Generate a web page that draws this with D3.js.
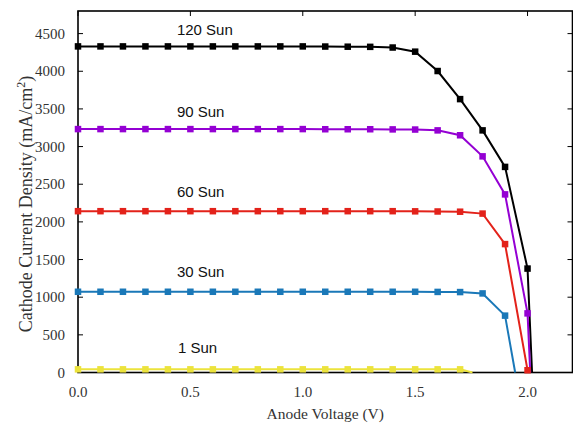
<!DOCTYPE html>
<html>
<head>
<meta charset="utf-8">
<script src="https://cdn.jsdelivr.net/npm/d3@7"></script>
<style>
  body { margin: 0; background: #fff; }
  svg { display: block; }
</style>
</head>
<body>
<script>
var width = 573,
    height = 423;

// voltage grid (V), 0.0 .. 2.0 step 0.1
var voltage = [0.0, 0.1, 0.2, 0.3, 0.4, 0.5, 0.6, 0.7, 0.8, 0.9, 1.0,
               1.1, 1.2, 1.3, 1.4, 1.5, 1.6, 1.7, 1.8, 1.9, 2.0];

// current density (mA/cm^2)
var sun120 = [4330, 4330, 4330, 4330, 4330, 4330, 4330, 4330, 4330, 4330, 4330,
              4328, 4326, 4324, 4315, 4260, 4003, 3630, 3215, 2730, 1380];
var sun90  = [3232, 3232, 3232, 3232, 3232, 3232, 3232, 3232, 3232, 3232, 3232,
              3230, 3230, 3230, 3228, 3226, 3215, 3150, 2870, 2365, 785];
var sun60  = [2142, 2142, 2142, 2142, 2142, 2142, 2142, 2142, 2142, 2142, 2142,
              2142, 2142, 2142, 2142, 2140, 2138, 2135, 2110, 1705, 30];
var sun30  = [1072, 1072, 1072, 1072, 1072, 1072, 1072, 1072, 1072, 1072, 1072,
              1072, 1072, 1072, 1072, 1072, 1070, 1068, 1050, 755];
var sun1   = [42, 42, 42, 42, 42, 42, 42, 42, 42, 42, 42,
              42, 42, 42, 42, 42, 42, 42];

// open circuit voltage where each curve meets zero
var voc = [2.02, 2.012, 2.004, 1.945, 1.755];

var names = ['120 Sun', '90 Sun', '60 Sun', '30 Sun', '1 Sun'];
var colors = ['#000000', '#9400d3', '#e3221a', '#1a78b8', '#ece33c'];

// label anchors in data coords (like gnuplot "set label at")
var labelX = [0.44, 0.44, 0.44, 0.44, 0.445];
var labelY = [4475, 3390, 2325, 1270, 262];

var xTicks = [0, 0.5, 1.0, 1.5, 2.0];
var yTicks = [0, 500, 1000, 1500, 2000, 2500, 3000, 3500, 4000, 4500];

var plotL = 78, plotR = 572.5, plotT = 11, plotB = 372.5;

var x = d3.scaleLinear().domain([0, 2.2]).range([plotL, plotR]);
var y = d3.scaleLinear().domain([0, 4800]).range([plotB, plotT]);

var svg = d3.select('body')
  .append('svg')
  .attr('width', width)
  .attr('height', height);

var series = [sun120, sun90, sun60, sun30, sun1].map(function(vals, i) {
  var pts = vals.map(function(v, j) { return [voltage[j], v]; });
  return { name: names[i], color: colors[i], pts: pts, line: pts.concat([[voc[i], 0]]) };
});

// frame
svg.append('rect')
  .attr('x', plotL).attr('y', plotT)
  .attr('width', plotR - plotL).attr('height', plotB - plotT)
  .attr('fill', 'none')
  .attr('stroke', '#000')
  .attr('stroke-width', 1.6);

// inward ticks, mirrored
var tl = 5;
var g = svg.append('g').attr('stroke', '#000').attr('stroke-width', 1);
xTicks.forEach(function(t) {
  g.append('line').attr('x1', x(t)).attr('x2', x(t)).attr('y1', plotB).attr('y2', plotB - tl);
  g.append('line').attr('x1', x(t)).attr('x2', x(t)).attr('y1', plotT).attr('y2', plotT + tl);
});
yTicks.forEach(function(t) {
  g.append('line').attr('x1', plotL).attr('x2', plotL + tl).attr('y1', y(t)).attr('y2', y(t));
  g.append('line').attr('x1', plotR).attr('x2', plotR - tl).attr('y1', y(t)).attr('y2', y(t));
});

svg.selectAll('.xt')
  .data(xTicks)
  .enter().append('text')
  .attr('x', function(d) { return x(d); })
  .attr('y', 397)
  .attr('text-anchor', 'middle')
  .style('font-family', '"Liberation Serif", "Times New Roman", serif')
  .style('font-size', '15px')
  .style('fill', '#333')
  .text(function(d) { return d.toFixed(1); });

svg.selectAll('.yt')
  .data(yTicks)
  .enter().append('text')
  .attr('x', 65)
  .attr('y', function(d) { return y(d) + 5; })
  .attr('text-anchor', 'end')
  .style('font-family', '"Liberation Serif", "Times New Roman", serif')
  .style('font-size', '15px')
  .style('fill', '#333')
  .text(function(d) { return d; });

svg.append('text')
  .attr('x', (plotL + plotR) / 2)
  .attr('y', 419)
  .attr('text-anchor', 'middle')
  .style('font-family', '"Liberation Serif", "Times New Roman", serif')
  .style('font-size', '15.5px')
  .style('fill', '#333')
  .text('Anode Voltage (V)');

var yt = svg.append('text')
  .attr('transform', 'translate(32,204) rotate(-90)')
  .attr('text-anchor', 'middle')
  .style('font-family', '"Liberation Serif", "Times New Roman", serif')
  .style('font-size', '18px')
  .style('fill', '#333');
yt.append('tspan').text('Cathode Current Density (mA/cm');
yt.append('tspan').attr('dy', -7).style('font-size', '12px').text('2');
yt.append('tspan').attr('dy', 7).text(')');

// curves
var line = d3.line()
  .x(function(d) { return x(d[0]); })
  .y(function(d) { return y(d[1]); });

var sg = svg.selectAll('.series')
  .data(series)
  .enter().append('g');

sg.append('path')
  .attr('d', function(d) { return line(d.line); })
  .attr('fill', 'none')
  .attr('stroke', function(d) { return d.color; })
  .attr('stroke-width', 2);

var ms = 6.5;
sg.each(function(s) {
  d3.select(this).selectAll('rect')
    .data(s.pts)
    .enter().append('rect')
    .attr('x', function(d) { return x(d[0]) - ms / 2; })
    .attr('y', function(d) { return y(d[1]) - ms / 2; })
    .attr('width', ms)
    .attr('height', ms)
    .attr('fill', s.color);
});

svg.selectAll('.lab')
  .data(names)
  .enter().append('text')
  .attr('x', function(d, i) { return x(labelX[i]); })
  .attr('y', function(d, i) { return y(labelY[i]); })
  .style('font-family', '"Liberation Sans", Arial, sans-serif')
  .style('font-size', '15px')
  .style('fill', '#111')
  .text(function(d) { return d; });
</script>
</body>
</html>
